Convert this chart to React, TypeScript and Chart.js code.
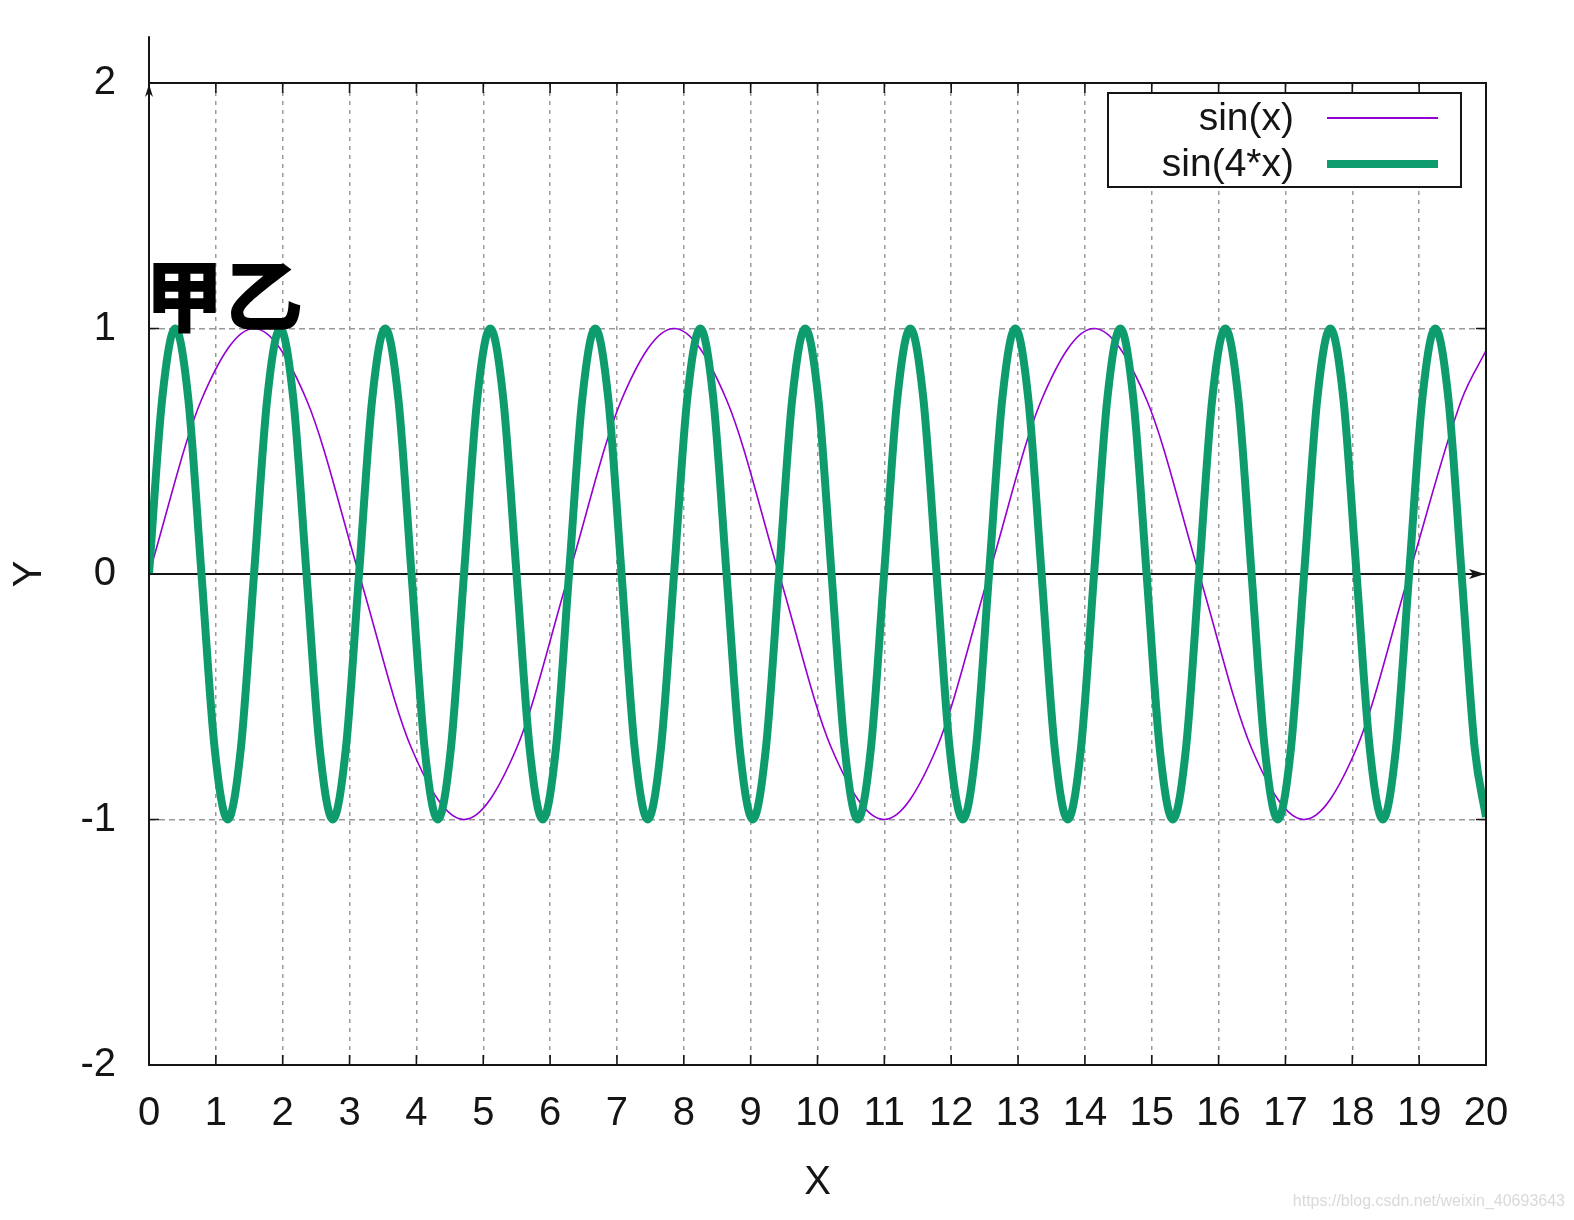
import React, { useEffect, useRef } from "react";
import { Chart, registerables } from "chart.js";

Chart.register(...registerables);

const WIDTH = 1574;
const HEIGHT = 1220;

const X_MIN = 0;
const X_MAX = 20;
const Y_MIN = -2;
const Y_MAX = 2;
const Y_AXIS_LINE_TOP = 2.19;

const xTickValues = [0, 1, 2, 3, 4, 5, 6, 7, 8, 9, 10, 11, 12, 13, 14, 15, 16, 17, 18, 19, 20];
const yTickValues = [-2, -1, 0, 1, 2];

const xTitle = "X";
const yTitle = "Y";
const seriesNames = ["sin(x)", "sin(4*x)"];
const seriesColors = ["#9400d3", "#0e9c6f"];
const annotationText = "甲乙";
const watermarkText = "https://blog.csdn.net/weixin_40693643";

// sin(x): points read at peaks, troughs, crossings and half-heights
const sinX_x = [
  0, 0.785, 1.571, 2.356, 3.142, 3.927, 4.712, 5.498, 6.283, 7.069, 7.854, 8.639, 9.425,
  10.21, 10.996, 11.781, 12.566, 13.352, 14.137, 14.923, 15.708, 16.493, 17.279, 18.064,
  18.85, 19.635, 20,
];
const sinX_y = [
  0, 0.71, 1, 0.71, 0, -0.71, -1, -0.71, 0, 0.71, 1, 0.71, 0,
  -0.71, -1, -0.71, 0, 0.71, 1, 0.71, 0, -0.71, -1, -0.71,
  0, 0.71, 0.91,
];

// sin(4*x): points read at peaks, troughs, crossings and half-heights
const sin4X_x = [
  0, 0.196, 0.393, 0.589, 0.785, 0.982, 1.178, 1.374,
  1.571, 1.767, 1.963, 2.16, 2.356, 2.553, 2.749, 2.945,
  3.142, 3.338, 3.534, 3.731, 3.927, 4.123, 4.32, 4.516,
  4.712, 4.909, 5.105, 5.301, 5.498, 5.694, 5.89, 6.087,
  6.283, 6.48, 6.676, 6.872, 7.069, 7.265, 7.461, 7.658,
  7.854, 8.05, 8.247, 8.443, 8.639, 8.836, 9.032, 9.228,
  9.425, 9.621, 9.817, 10.014, 10.21, 10.407, 10.603, 10.799,
  10.996, 11.192, 11.388, 11.585, 11.781, 11.977, 12.174, 12.37,
  12.566, 12.763, 12.959, 13.155, 13.352, 13.548, 13.744, 13.941,
  14.137, 14.334, 14.53, 14.726, 14.923, 15.119, 15.315, 15.512,
  15.708, 15.904, 16.101, 16.297, 16.493, 16.69, 16.886, 17.082,
  17.279, 17.475, 17.671, 17.868, 18.064, 18.261, 18.457, 18.653,
  18.85, 19.046, 19.242, 19.439, 19.635, 19.831, 20,
];
const sin4X_y = [
  0, 0.71, 1, 0.71, 0, -0.71, -1, -0.71,
  0, 0.71, 1, 0.71, 0, -0.71, -1, -0.71,
  0, 0.71, 1, 0.71, 0, -0.71, -1, -0.71,
  0, 0.71, 1, 0.71, 0, -0.71, -1, -0.71,
  0, 0.71, 1, 0.71, 0, -0.71, -1, -0.71,
  0, 0.71, 1, 0.71, 0, -0.71, -1, -0.71,
  0, 0.71, 1, 0.71, 0, -0.71, -1, -0.71,
  0, 0.71, 1, 0.71, 0, -0.71, -1, -0.71,
  0, 0.71, 1, 0.71, 0, -0.71, -1, -0.71,
  0, 0.71, 1, 0.71, 0, -0.71, -1, -0.71,
  0, 0.71, 1, 0.71, 0, -0.71, -1, -0.71,
  0, 0.71, 1, 0.71, 0, -0.71, -1, -0.71,
  0, 0.71, 1, 0.71, 0, -0.71, -0.99,
];

const FONT = "'Liberation Sans', Arial, Helvetica, sans-serif";
const CJK_FONT = "'Noto Sans CJK SC', 'Noto Sans CJK JP', sans-serif";
const INK = "#151515";

const decorPlugin = {
  id: "gnuplotDecor",
  beforeDatasetsDraw(chart: any) {
    const { ctx, scales } = chart;
    const xs = scales.x;
    const ys = scales.y;
    const y0 = ys.getPixelForValue(0);
    const xa = xs.getPixelForValue(X_MIN);
    const xb = xs.getPixelForValue(X_MAX);
    ctx.save();
    ctx.strokeStyle = INK;
    ctx.lineWidth = 2;
    ctx.beginPath();
    ctx.moveTo(xa, y0);
    ctx.lineTo(xb - 8, y0);
    ctx.stroke();
    ctx.fillStyle = INK;
    ctx.beginPath();
    ctx.moveTo(xb - 1, y0);
    ctx.lineTo(xb - 17, y0 - 5);
    ctx.lineTo(xb - 13, y0);
    ctx.lineTo(xb - 17, y0 + 5);
    ctx.closePath();
    ctx.fill();
    ctx.restore();
  },
  afterDraw(chart: any) {
    const { ctx, chartArea: a, scales, data } = chart;
    const xs = scales.x;
    const ys = scales.y;
    ctx.save();
    // frame
    ctx.strokeStyle = INK;
    ctx.lineWidth = 2;
    ctx.strokeRect(a.left, a.top, a.right - a.left, a.bottom - a.top);
    // y axis line extension and arrowhead
    const yTop = ys.getPixelForValue(Y_AXIS_LINE_TOP);
    ctx.beginPath();
    ctx.moveTo(a.left, a.bottom);
    ctx.lineTo(a.left, yTop);
    ctx.stroke();
    const yArrow = ys.getPixelForValue(Y_MAX);
    ctx.fillStyle = INK;
    ctx.beginPath();
    ctx.moveTo(a.left, yArrow + 1);
    ctx.lineTo(a.left - 4, yArrow + 14);
    ctx.lineTo(a.left, yArrow + 10);
    ctx.lineTo(a.left + 4, yArrow + 14);
    ctx.closePath();
    ctx.fill();
    // inward ticks
    ctx.lineWidth = 1.6;
    for (const v of xTickValues) {
      const px = xs.getPixelForValue(v);
      ctx.beginPath();
      ctx.moveTo(px, a.bottom);
      ctx.lineTo(px, a.bottom - 10);
      ctx.moveTo(px, a.top);
      ctx.lineTo(px, a.top + 10);
      ctx.stroke();
    }
    for (const v of yTickValues) {
      const py = ys.getPixelForValue(v);
      ctx.beginPath();
      ctx.moveTo(a.left, py);
      ctx.lineTo(a.left + 10, py);
      ctx.moveTo(a.right, py);
      ctx.lineTo(a.right - 10, py);
      ctx.stroke();
    }
    // legend
    const boxL = 1108, boxT = 93, boxR = 1461, boxB = 187;
    ctx.fillStyle = "#ffffff";
    ctx.fillRect(boxL, boxT, boxR - boxL, boxB - boxT);
    ctx.strokeStyle = INK;
    ctx.lineWidth = 2;
    ctx.strokeRect(boxL, boxT, boxR - boxL, boxB - boxT);
    ctx.font = `39px ${FONT}`;
    ctx.textAlign = "right";
    ctx.textBaseline = "middle";
    const rows = [118, 164];
    data.datasets.forEach((ds: any, i: number) => {
      const ry = rows[i];
      ctx.fillStyle = INK;
      ctx.fillText(ds.label, 1294, ry + 1);
      ctx.strokeStyle = ds.borderColor;
      ctx.lineWidth = i === 0 ? 2 : 8;
      ctx.beginPath();
      ctx.moveTo(1327, ry);
      ctx.lineTo(1438, ry);
      ctx.stroke();
    });
    // annotation
    ctx.fillStyle = "#000000";
    ctx.font = `900 78px ${CJK_FONT}`;
    ctx.textAlign = "left";
    ctx.textBaseline = "alphabetic";
    try {
      (ctx as any).letterSpacing = "2px";
    } catch (e) {}
    ctx.fillText(annotationText, xs.getPixelForValue(X_MIN) - 4, ys.getPixelForValue(1) - 3);
    try {
      (ctx as any).letterSpacing = "0px";
    } catch (e) {}
    // watermark
    ctx.fillStyle = "#d9d9d9";
    ctx.font = `16px ${FONT}`;
    ctx.textAlign = "right";
    ctx.textBaseline = "middle";
    ctx.fillText(watermarkText, 1565, 1202);
    ctx.restore();
  },
};

export default function App() {
  const canvasRef = useRef<HTMLCanvasElement | null>(null);

  useEffect(() => {
    const canvas = canvasRef.current;
    if (!canvas) return;
    const chart = new Chart(canvas, {
      type: "line",
      data: {
        datasets: [
          {
            label: seriesNames[0],
            data: sinX_x.map((x, i) => ({ x, y: sinX_y[i] })),
            borderColor: seriesColors[0],
            backgroundColor: seriesColors[0],
            borderWidth: 1.6,
            pointRadius: 0,
            cubicInterpolationMode: "monotone",
            fill: false,
            order: 2,
          },
          {
            label: seriesNames[1],
            data: sin4X_x.map((x, i) => ({ x, y: sin4X_y[i] })),
            borderColor: seriesColors[1],
            backgroundColor: seriesColors[1],
            borderWidth: 8,
            pointRadius: 0,
            cubicInterpolationMode: "monotone",
            borderJoinStyle: "round",
            fill: false,
            order: 1,
          },
        ],
      },
      options: {
        responsive: false,
        animation: false,
        devicePixelRatio: 1,
        events: [],
        layout: { padding: { top: 83, right: 88, left: 0, bottom: 0 } },
        plugins: {
          legend: { display: false },
          tooltip: { enabled: false },
        },
        scales: {
          x: {
            type: "linear",
            min: X_MIN,
            max: X_MAX,
            afterFit: (s: any) => {
              s.height = 155;
            },
            afterBuildTicks: (s: any) => {
              s.ticks = xTickValues.map((value) => ({ value }));
            },
            grid: { color: "#9a9a9a", lineWidth: 1.5, drawTicks: false },
            border: { display: false, dash: [4, 5] },
            ticks: {
              autoSkip: false,
              maxRotation: 0,
              minRotation: 0,
              padding: 25,
              color: INK,
              font: { size: 40, family: FONT },
              callback: (v: any) => String(v),
            },
            title: {
              display: true,
              text: xTitle,
              color: INK,
              font: { size: 40, family: FONT },
              padding: { top: 0, bottom: 13 },
            },
          },
          y: {
            type: "linear",
            min: Y_MIN,
            max: Y_MAX,
            afterFit: (s: any) => {
              s.width = 149;
            },
            afterBuildTicks: (s: any) => {
              s.ticks = yTickValues.map((value) => ({ value }));
            },
            grid: { color: "#9a9a9a", lineWidth: 1.5, drawTicks: false },
            border: { display: false, dash: [6, 4] },
            ticks: {
              padding: 33,
              color: INK,
              font: { size: 40, family: FONT },
              callback: (v: any) => String(v),
            },
            title: {
              display: true,
              text: yTitle,
              color: INK,
              font: { size: 40, family: FONT },
              padding: { top: 6, bottom: 0 },
            },
          },
        },
      } as any,
      plugins: [decorPlugin],
    });
    return () => chart.destroy();
  }, []);

  return (
    <div style={{ position: "fixed", left: 0, top: 0, width: WIDTH, height: HEIGHT, background: "#fff" }}>
      <canvas ref={canvasRef} width={WIDTH} height={HEIGHT} style={{ display: "block" }} />
    </div>
  );
}
